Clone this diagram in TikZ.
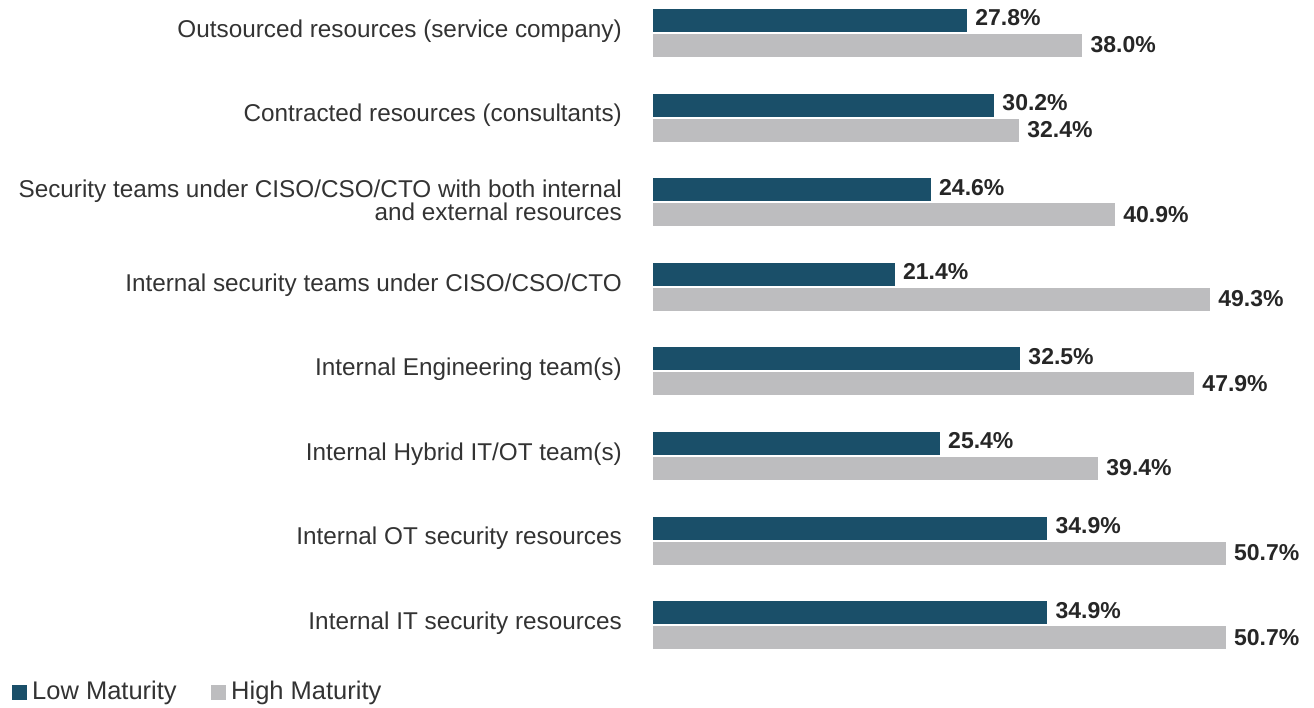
\documentclass[tikz,border=0pt]{standalone}
\usepackage{fontspec}
\setmainfont{Liberation Sans}
\usetikzlibrary{positioning}
\definecolor{lowmat}{HTML}{1A4F69}
\definecolor{highmat}{HTML}{BDBDBF}
\definecolor{txtgray}{HTML}{333333}

\begin{document}
\begin{tikzpicture}[x=1pt, y=-1pt,
    catlabel/.style={anchor=east, align=right, text=txtgray, inner sep=0pt,
      font=\fontsize{24.3}{23}\selectfont},
    vallabel/.style={anchor=west, text=black!85, inner sep=0pt,
      font=\bfseries\fontsize{23}{23}\selectfont},
    legtext/.style={anchor=west, text=txtgray, inner sep=0pt,
      font=\fontsize{25.5}{25}\selectfont}]
    \useasboundingbox (0,0) rectangle (1314,707);

    % one row per resource type: low maturity on top, high maturity below
    \foreach \i/\lo/\hi/\txt in {
        0/27.8/38.0/{Outsourced resources (service company)},
        1/30.2/32.4/{Contracted resources (consultants)},
        2/24.6/40.9/{Security teams under CISO/CSO/CTO with both internal\hspace{6pt}\\and external resources},
        3/21.4/49.3/{Internal security teams under CISO/CSO/CTO},
        4/32.5/47.9/{Internal Engineering team(s)},
        5/25.4/39.4/{Internal Hybrid IT/OT team(s)},
        6/34.9/50.7/{Internal OT security resources},
        7/34.9/50.7/{Internal IT security resources}} {
      \pgfmathsetmacro{\ytop}{9+84.6*\i}
      \fill[lowmat] (653,\ytop) rectangle ++(\lo*11.3, 23);
      \fill[highmat] (653,\ytop+25) rectangle ++(\hi*11.3, 23);
      \node[catlabel] (cat\i) at (622,\ytop+22) {\txt};
      \node[vallabel] (low\i) at ({653+\lo*11.3+8},\ytop+9) {\lo\%};
      \node[vallabel] (high\i) at ({653+\hi*11.3+8},\ytop+36) {\hi\%};
    }

    % legend
    \fill[lowmat] (12,685) rectangle (27,700);
    \node[legtext] (leglow) at (32,692.5) {Low Maturity};
    \fill[highmat] (211,685) rectangle (226,700);
    \node[legtext] (leghigh) at (231,692.5) {High Maturity};
\end{tikzpicture}
\end{document}
